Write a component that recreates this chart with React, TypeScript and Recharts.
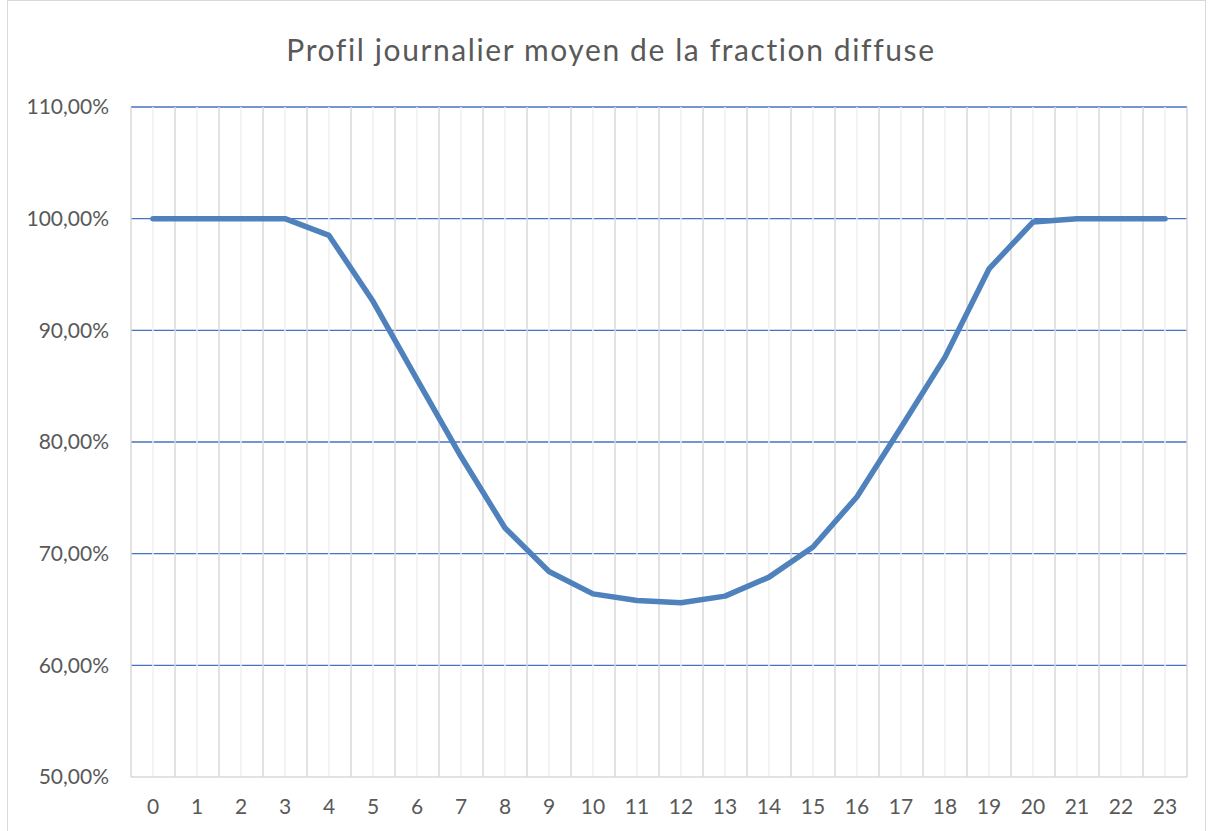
import { CartesianGrid, Line, LineChart, XAxis, YAxis } from "recharts";

const hours = [0, 1, 2, 3, 4, 5, 6, 7, 8, 9, 10, 11, 12, 13, 14, 15, 16, 17, 18, 19, 20, 21, 22, 23];
const hourBounds = [
  -0.5, 0.5, 1.5, 2.5, 3.5, 4.5, 5.5, 6.5, 7.5, 8.5, 9.5, 10.5, 11.5, 12.5, 13.5, 14.5, 15.5, 16.5,
  17.5, 18.5, 19.5, 20.5, 21.5, 22.5, 23.5,
];
const diffuseFraction = [
  100, 100, 100, 100, 98.5, 92.6, 85.6, 78.7, 72.3, 68.4, 66.4, 65.8, 65.6, 66.2, 67.9, 70.6, 75.1,
  81.3, 87.6, 95.5, 99.7, 100, 100, 100,
];
const yTicks = [50, 60, 70, 80, 90, 100, 110];
const gridTicks = [60, 70, 80, 90, 100, 110];
const xDomain = [-0.5, 23.5];
const yDomain = [50, 110];

const data = hours.map((h, i) => ({ hour: h, value: diffuseFraction[i] }));

const font = "Lato, 'Open Sans', sans-serif";
const textColor = "#595959";

const fmtPct = (v: number) => v.toFixed(2).replace(".", ",") + "%";

// grid positions: use the axis scale when it is handed over, else map over the plot box
const xPos = (args: any, v: number) => {
  const s = args.xAxis && args.xAxis.scale;
  if (typeof s === "function") return s(v);
  const o = args.offset;
  return o.left + ((v - xDomain[0]) / (xDomain[1] - xDomain[0])) * o.width;
};
const yPos = (args: any, v: number) => {
  const s = args.yAxis && args.yAxis.scale;
  if (typeof s === "function") return s(v);
  const o = args.offset;
  return o.top + ((yDomain[1] - v) / (yDomain[1] - yDomain[0])) * o.height;
};
const blueLines = (args: any) => gridTicks.map((t) => yPos(args, t));
const hourLines = (args: any) => hours.map((h) => xPos(args, h));
const boundLines = (args: any) => hourBounds.map((b) => xPos(args, b));

export default function App() {
  return (
    <div style={{ position: "relative", width: 1212, height: 831, overflow: "hidden", background: "#fff" }}>
      <style>{"body{margin:0}"}</style>
      <div
        style={{
          position: "absolute",
          left: 7,
          top: 0,
          width: 1197,
          height: 840,
          border: "1px solid #d9d9d9",
        }}
      />
      <div
        style={{
          position: "absolute",
          top: 31,
          left: 0,
          width: 1222,
          textAlign: "center",
          fontFamily: font,
          fontSize: 30,
          letterSpacing: 1.6,
          fontVariantLigatures: "none",
          color: textColor,
        }}
      >
        Profil journalier moyen de la fraction diffuse
      </div>
      <div style={{ position: "absolute", left: 0, top: 0 }}>
        <LineChart width={1212} height={831} data={data} margin={{ top: 107, right: 25, bottom: 0, left: 0 }}>
          <CartesianGrid vertical={false} horizontalCoordinatesGenerator={blueLines} stroke="#4472C4" strokeWidth={1.3} />
          <CartesianGrid horizontal={false} verticalCoordinatesGenerator={hourLines} stroke="#efefef" strokeWidth={1.5} />
          <CartesianGrid horizontal={false} verticalCoordinatesGenerator={boundLines} stroke="#d9d9d9" strokeWidth={1.5} />
          <XAxis
            dataKey="hour"
            type="number"
            domain={xDomain}
            ticks={hours}
            interval={0}
            height={54}
            axisLine={{ stroke: "#d9d9d9", strokeWidth: 1.5 }}
            tickLine={false}
            tickSize={0}
            tickMargin={22}
            tick={{ fill: textColor, fontSize: 21, fontFamily: font }}
          />
          <XAxis
            xAxisId="bounds"
            dataKey="hour"
            type="number"
            domain={xDomain}
            ticks={hourBounds}
            interval={0}
            height={0}
            tick={false}
            tickSize={7}
            tickLine={{ stroke: "#d9d9d9", strokeWidth: 1.5 }}
            axisLine={false}
          />
          <YAxis
            domain={yDomain}
            ticks={yTicks}
            interval={0}
            width={131}
            axisLine={false}
            tickLine={false}
            tickSize={0}
            tickMargin={22}
            tickFormatter={fmtPct}
            tick={{ fill: textColor, fontSize: 21, fontFamily: font }}
          />
          <Line
            dataKey="value"
            type="linear"
            stroke="#4F81BD"
            strokeWidth={5.5}
            strokeLinejoin="round"
            strokeLinecap="round"
            dot={false}
            activeDot={false}
            isAnimationActive={false}
          />
        </LineChart>
      </div>
    </div>
  );
}
